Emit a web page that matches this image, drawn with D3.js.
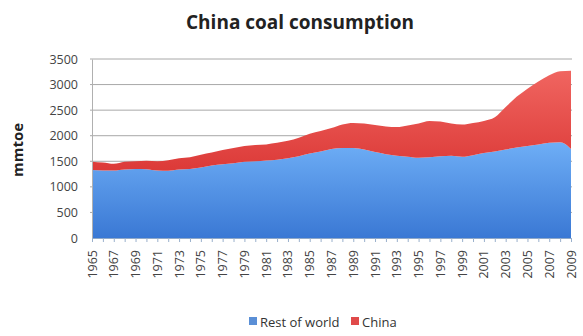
<!DOCTYPE html>
<html>
<head>
<meta charset="utf-8">
<script src="https://cdn.jsdelivr.net/npm/d3@7"></script>
<style>
body { margin: 0; background: #fff; }
</style>
</head>
<body>
<div id="chart"></div>
<script>
var years = d3.range(1965, 2010);

// mmtoe
var restOfWorld = [1330, 1320, 1320, 1340, 1350, 1345, 1320, 1315, 1340, 1350,
    1380, 1420, 1440, 1460, 1490, 1500, 1515, 1530, 1560, 1600,
    1650, 1690, 1740, 1760, 1760, 1730, 1680, 1640, 1610, 1590,
    1570, 1580, 1600, 1610, 1590, 1620, 1660, 1690, 1730, 1770,
    1800, 1830, 1860, 1870, 1740];
var total = [1492, 1475, 1450, 1490, 1500, 1510, 1500, 1520, 1560, 1580,
    1630, 1670, 1720, 1760, 1800, 1820, 1830, 1860, 1900, 1960,
    2040, 2090, 2150, 2220, 2250, 2240, 2210, 2180, 2170, 2200,
    2240, 2290, 2280, 2240, 2220, 2250, 2290, 2360, 2560, 2760,
    2920, 3060, 3180, 3260, 3270];
var china = total.map(function (t, i) { return t - restOfWorld[i]; });

var yTicks = [0, 500, 1000, 1500, 2000, 2500, 3000, 3500];
var xLabels = years.filter(function (d) { return (d - 1965) % 2 === 0; });
var seriesNames = ["Rest of world", "China"];

var width = 583, height = 336;
var margin = {top: 59, right: 12, bottom: 98, left: 92};

var svg = d3.select("#chart")
    .append("svg")
        .attr("width", width)
        .attr("height", height)
        .style("font-family", "'Open Sans', sans-serif");

var defs = svg.append("defs");
var gBlue = defs.append("linearGradient").attr("id", "gBlue")
    .attr("x1", 0).attr("y1", 0).attr("x2", 0).attr("y2", 1);
gBlue.append("stop").attr("offset", "0%").attr("stop-color", "#6eaef6");
gBlue.append("stop").attr("offset", "100%").attr("stop-color", "#3a78d4");
var gRed = defs.append("linearGradient").attr("id", "gRed")
    .attr("x1", 0).attr("y1", 0).attr("x2", 0).attr("y2", 1);
gRed.append("stop").attr("offset", "0%").attr("stop-color", "#f06560");
gRed.append("stop").attr("offset", "100%").attr("stop-color", "#dc3a38");

var x = d3.scaleLinear()
    .domain([1965, 2009])
    .range([margin.left, width - margin.right]);
var y = d3.scaleLinear()
    .domain([0, 3500])
    .range([height - margin.bottom, margin.top]);

// gridlines
svg.append("g")
    .selectAll("line")
    .data(yTicks.slice(1))
    .enter()
    .append("line")
        .attr("x1", margin.left - 2)
        .attr("x2", width - margin.right + 1)
        .attr("y1", function (d) { return y(d); })
        .attr("y2", function (d) { return y(d); })
        .attr("stroke", "#a8a8a8")
        .attr("stroke-width", 1);

var data = years.map(function (yr, i) {
    return {year: yr, row: restOfWorld[i], china: china[i]};
});
var stack = d3.stack().keys(["row", "china"]);
var layers = stack(data);

var area = d3.area()
    .x(function (d) { return x(d.data.year); })
    .y0(function (d) { return y(d[0]); })
    .y1(function (d) { return y(d[1]); })
    .curve(d3.curveMonotoneX);

svg.append("g")
    .selectAll("path")
    .data(layers)
    .enter()
    .append("path")
        .attr("d", area)
        .attr("fill", function (d, i) { return i === 0 ? "url(#gBlue)" : "url(#gRed)"; });

// y axis
var yAxis = svg.append("g")
    .attr("transform", "translate(" + margin.left + ",0)")
    .call(d3.axisLeft(y).tickValues(yTicks).tickSize(0).tickPadding(14).tickFormat(d3.format("d")));
yAxis.select(".domain").attr("stroke", "#b0b0b0");
yAxis.selectAll("text")
    .attr("font-size", "12.5px")
    .attr("fill", "#444")
    .style("font-family", "'Open Sans', sans-serif");

// x axis
var xAxis = svg.append("g")
    .attr("transform", "translate(0," + y(0) + ")")
    .call(d3.axisBottom(x).tickValues(years).tickSize(4).tickFormat(""));
xAxis.select(".domain").attr("stroke", "#8fa8c8");
xAxis.selectAll(".tick line").attr("stroke", "#9ab0cc");

svg.append("g")
    .selectAll("text")
    .data(xLabels)
    .enter()
    .append("text")
        .attr("transform", function (d) {
            return "translate(" + (x(d) + 4.5) + "," + (y(0) + 12) + ") rotate(-90)";
        })
        .attr("text-anchor", "end")
        .attr("font-size", "12.5px")
        .attr("fill", "#444")
        .text(function (d) { return d; });

// title
svg.append("text")
    .attr("x", 300)
    .attr("y", 29)
    .attr("text-anchor", "middle")
    .attr("font-size", "19px")
    .attr("font-weight", "bold")
    .attr("fill", "#222")
    .text("China coal consumption");

// name of Y-axis
svg.append("text")
    .attr("transform", "translate(23,150) rotate(-90)")
    .attr("text-anchor", "middle")
    .attr("font-size", "15px")
    .attr("font-weight", "bold")
    .attr("fill", "#222")
    .text("mmtoe");

// legend
var legendColors = ["#5a8fd6", "#e04a4a"];
var legendX = [249, 351];
var legend = svg.append("g")
    .selectAll("g")
    .data(seriesNames)
    .enter()
    .append("g")
        .attr("transform", function (d, i) { return "translate(" + legendX[i] + ",317)"; });
legend.append("rect")
    .attr("width", 8)
    .attr("height", 8)
    .attr("fill", function (d, i) { return legendColors[i]; });
legend.append("text")
    .attr("x", 11)
    .attr("y", 10)
    .attr("font-size", "13px")
    .attr("fill", "#333")
    .text(function (d) { return d; });
</script>
</body>
</html>
